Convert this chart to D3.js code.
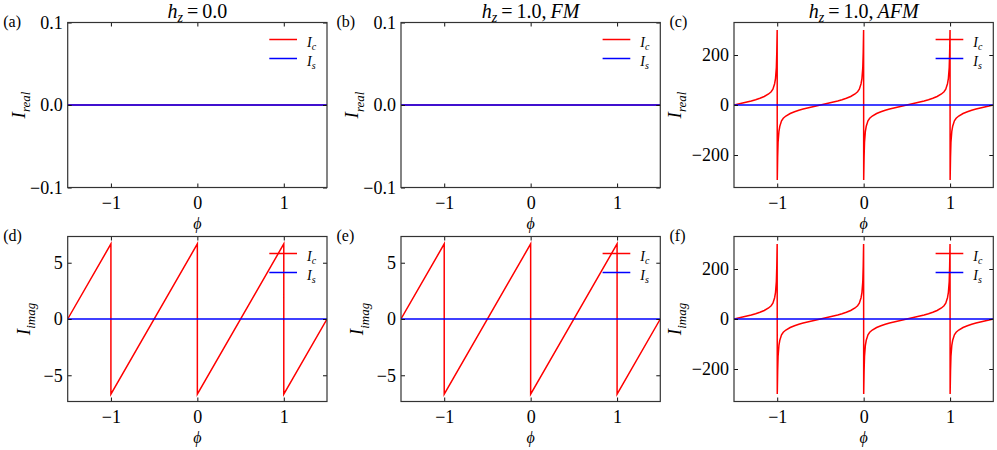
<!DOCTYPE html>
<html>
<head>
<meta charset="utf-8">
<script src="https://cdn.jsdelivr.net/npm/d3@7"></script>
<style>
  body { margin: 0; background: #fff; }
  svg { display: block; }
</style>
</head>
<body>
<div id="chart"></div>
<script>
// phase axis
const phiDomain = [-1.5, 1.5]
const phiTicks = [-1, 0, 1]

// I_c for the sawtooth panels (d), (e): vertices
const icSaw = [
  [-1.5, 0], [-1, 6.67], [-1, -6.67], [0, 6.67], [0, -6.67], [1, 6.67], [1, -6.67], [1.5, 0]
]

// I_c for the AFM panels (c), (f): points
const icAFM = [
  [-1.5, 0], [-1.45, 4], [-1.4, 8], [-1.35, 12], [-1.3, 16], [-1.25, 21], [-1.2, 27], [-1.15, 34],
  [-1.1, 44], [-1.07, 53], [-1.05, 63], [-1.03, 85], [-1.02, 105], [-1.01, 150], [-1.005, 210], [-1.0005, 300],
  [-0.9995, -300], [-0.995, -210], [-0.99, -150], [-0.98, -105], [-0.97, -85], [-0.95, -63], [-0.93, -53],
  [-0.9, -44], [-0.85, -34], [-0.8, -27], [-0.75, -21], [-0.7, -16], [-0.65, -12], [-0.6, -8], [-0.55, -4],
  [-0.5, 0], [-0.45, 4], [-0.4, 8], [-0.35, 12], [-0.3, 16], [-0.25, 21], [-0.2, 27], [-0.15, 34],
  [-0.1, 44], [-0.07, 53], [-0.05, 63], [-0.03, 85], [-0.02, 105], [-0.01, 150], [-0.005, 210], [-0.0005, 300],
  [0.0005, -300], [0.005, -210], [0.01, -150], [0.02, -105], [0.03, -85], [0.05, -63], [0.07, -53],
  [0.1, -44], [0.15, -34], [0.2, -27], [0.25, -21], [0.3, -16], [0.35, -12], [0.4, -8], [0.45, -4],
  [0.5, 0], [0.55, 4], [0.6, 8], [0.65, 12], [0.7, 16], [0.75, 21], [0.8, 27], [0.85, 34],
  [0.9, 44], [0.93, 53], [0.95, 63], [0.97, 85], [0.98, 105], [0.99, 150], [0.995, 210], [0.9995, 300],
  [1.0005, -300], [1.005, -210], [1.01, -150], [1.02, -105], [1.03, -85], [1.05, -63], [1.07, -53],
  [1.1, -44], [1.15, -34], [1.2, -27], [1.25, -21], [1.3, -16], [1.35, -12], [1.4, -8], [1.45, -4],
  [1.5, 0]
]

// flat curves
const zeroLine = [[-1.5, 0], [1.5, 0]]

// y ranges and ticks
const yDomSmall = [-0.1, 0.1]
const yTicksSmall = [-0.1, 0, 0.1]
const yDomSaw = [-7.33, 7.33]
const yTicksSaw = [-5, 0, 5]
const yDomAFM = [-330, 330]
const yTicksAFM = [-200, 0, 200]

const panelLetters = ['(a)', '(b)', '(c)', '(d)', '(e)', '(f)']
const titleSuffix = [null, 'FM', 'AFM']
const titleValue = ['0.0', '1.0', '1.0']

// layout
const width = 997, height = 450
const lefts = [67.7, 401, 734]
const tops = [22.5, 236.5]
const pw = 259.3, ph = 165
const serif = '"Liberation Serif", "Times New Roman", serif'

const svg = d3.select('#chart').append('svg')
  .attr('width', width)
  .attr('height', height)
  .style('background', '#fff')
  .style('font-family', serif)

const minus = (s) => s.replace('-', '\u2212')

const panels = [
  { ic: zeroLine, is: zeroLine, dom: yDomSmall, ticks: yTicksSmall, fmt: (d) => d3.format('.1f')(d), sub: 'real', lab: 42.7 },
  { ic: zeroLine, is: zeroLine, dom: yDomSmall, ticks: yTicksSmall, fmt: (d) => d3.format('.1f')(d), sub: 'real', lab: 42.7 },
  { ic: icAFM, is: zeroLine, dom: yDomAFM, ticks: yTicksAFM, fmt: (d) => minus(String(d)), sub: 'real', lab: 53.5 },
  { ic: icSaw, is: zeroLine, dom: yDomSaw, ticks: yTicksSaw, fmt: (d) => minus(String(d)), sub: 'imag', lab: 38 },
  { ic: icSaw, is: zeroLine, dom: yDomSaw, ticks: yTicksSaw, fmt: (d) => minus(String(d)), sub: 'imag', lab: 38 },
  { ic: icAFM, is: zeroLine, dom: yDomAFM, ticks: yTicksAFM, fmt: (d) => minus(String(d)), sub: 'imag', lab: 53.5 },
]

panels.forEach((p, i) => {
  const col = i % 3, row = Math.floor(i / 3)
  const g = svg.append('g').attr('transform', `translate(${lefts[col]},${tops[row]})`)

  const x = d3.scaleLinear().domain(phiDomain).range([0, pw])
  const y = d3.scaleLinear().domain(p.dom).range([ph, 0])

  g.append('clipPath').attr('id', 'clip' + i)
    .append('rect').attr('width', pw).attr('height', ph)

  const line = d3.line().x((d) => x(d[0])).y((d) => y(d[1]))

  g.append('path').datum(p.ic)
    .attr('clip-path', `url(#clip${i})`)
    .attr('fill', 'none').attr('stroke', '#ff0000').attr('stroke-width', 1.5)
    .attr('d', line)
  g.append('path').datum(p.is)
    .attr('clip-path', `url(#clip${i})`)
    .attr('fill', 'none').attr('stroke', '#0000ff').attr('stroke-width', 1.5)
    .attr('d', line)

  // axes, ticks inward on all sides
  g.append('g').attr('transform', `translate(0,${ph})`)
    .call(d3.axisBottom(x).tickValues(phiTicks).tickSizeInner(-4).tickSizeOuter(0).tickPadding(9)
      .tickFormat((d) => minus(String(d))))
  g.append('g')
    .call(d3.axisTop(x).tickValues(phiTicks).tickSizeInner(-4).tickSizeOuter(0).tickFormat(''))
  g.append('g')
    .call(d3.axisLeft(y).tickValues(p.ticks).tickSizeInner(-4).tickSizeOuter(0).tickPadding(5).tickFormat(p.fmt))
  g.append('g').attr('transform', `translate(${pw},0)`)
    .call(d3.axisRight(y).tickValues(p.ticks).tickSizeInner(-4).tickSizeOuter(0).tickFormat(''))

  g.selectAll('.domain').remove()
  g.selectAll('.tick line').attr('stroke', '#111').attr('stroke-width', 1)
  g.selectAll('.tick text')
    .attr('font-family', null).attr('font-size', null)
    .style('font-family', serif).style('font-size', '18px').attr('fill', '#000')

  g.append('rect').attr('width', pw).attr('height', ph)
    .attr('fill', 'none').attr('stroke', '#333').attr('stroke-width', 1.2)

  // legend
  const leg = [['c', '#ff0000', 17], ['s', '#0000ff', 36]]
  leg.forEach(([s, c, dy]) => {
    g.append('line')
      .attr('x1', pw - 57.7).attr('x2', pw - 30)
      .attr('y1', dy).attr('y2', dy)
      .attr('stroke', c).attr('stroke-width', 1.5)
    const t = g.append('text').attr('x', pw - 20).attr('y', dy + 7.3)
      .style('font-family', serif).style('font-size', '14px')
    t.append('tspan').style('font-style', 'italic').text('I')
    t.append('tspan').style('font-style', 'italic').style('font-size', '10px').attr('dy', 3).text(s)
  })

  // y label
  const yl = g.append('text')
    .attr('transform', `translate(${-p.lab},${ph / 2}) rotate(-90)`)
    .attr('text-anchor', 'middle')
    .style('font-family', serif).style('font-size', '19px')
  yl.append('tspan').style('font-style', 'italic').text('I')
  yl.append('tspan').style('font-style', 'italic').style('font-size', '13px').attr('dy', 5.5).text(p.sub)

  // x label
  g.append('text').attr('x', pw / 2).attr('y', ph + 41)
    .attr('text-anchor', 'middle')
    .style('font-family', serif).style('font-size', '16px').style('font-style', 'italic')
    .text('\u03d5')

  // panel letter
  g.append('text').attr('x', -64.5).attr('y', 4.5)
    .style('font-family', serif).style('font-size', '16px').text(panelLetters[i])

  // title on top row
  if (row === 0) {
    const tt = g.append('text').attr('x', pw / 2).attr('y', -4.3)
      .attr('text-anchor', 'middle')
      .style('font-family', serif).style('font-size', '20px')
    tt.append('tspan').style('font-style', 'italic').text('h')
    tt.append('tspan').style('font-style', 'italic').style('font-size', '14px').attr('dy', 4).text('z')
    tt.append('tspan').attr('dy', -4).text('\u2009=\u2009' + titleValue[col] + (titleSuffix[col] ? ',\u2009' : ''))
    if (titleSuffix[col]) tt.append('tspan').style('font-style', 'italic').text(titleSuffix[col])
  }
})
</script>
</body>
</html>
